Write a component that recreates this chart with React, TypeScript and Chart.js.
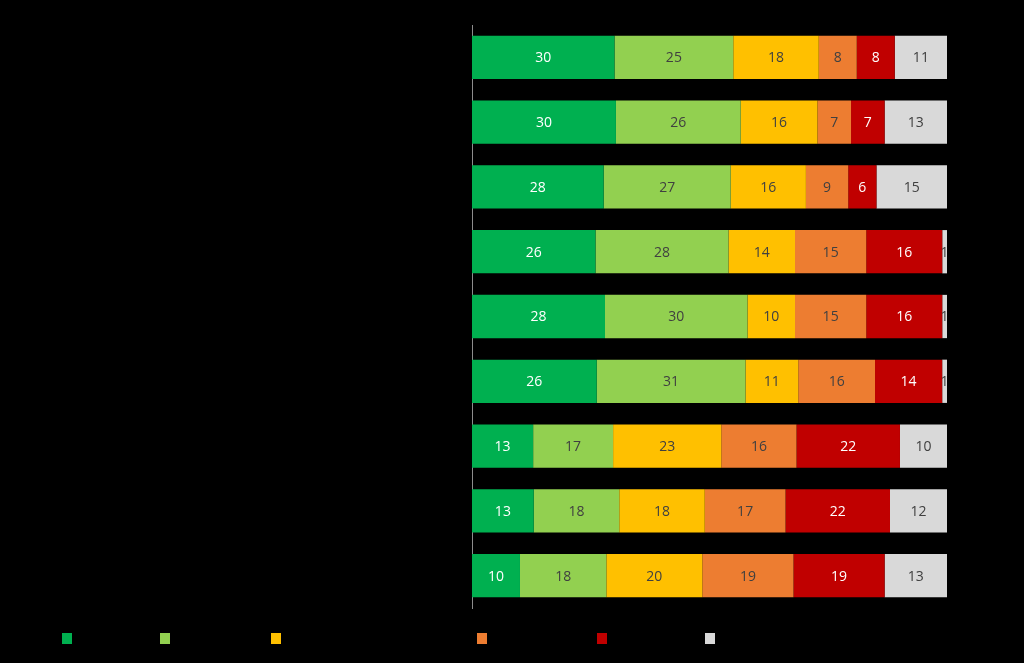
import React, { useEffect, useRef } from "react";
import { Chart, registerables } from "chart.js";

Chart.register(...registerables);

// Category and series names are not legible in the reference (black on black); placeholders kept unseen.
const categories = ["Row 1", "Row 2", "Row 3", "Row 4", "Row 5", "Row 6", "Row 7", "Row 8", "Row 9"];
const seriesNames = ["Series 1", "Series 2", "Series 3", "Series 4", "Series 5", "Series 6"];
const seriesColors = ["#00B050", "#92D050", "#FFC000", "#ED7D31", "#C00000", "#D9D9D9"];
const labelColors = ["#FFFFFF", "#404040", "#404040", "#404040", "#FFFFFF", "#404040"];

const series1 = [30, 30, 28, 26, 28, 26, 13, 13, 10];
const series2 = [25, 26, 27, 28, 30, 31, 17, 18, 18];
const series3 = [18, 16, 16, 14, 10, 11, 23, 18, 20];
const series4 = [8, 7, 9, 15, 15, 16, 16, 17, 19];
const series5 = [8, 7, 6, 16, 16, 14, 22, 22, 19];
const series6 = [11, 13, 15, 1, 1, 1, 10, 12, 13];

const allSeries = [series1, series2, series3, series4, series5, series6];

// legend square x positions (layout)
const legendX = [62, 160, 271, 477, 597, 705];

export default function App() {
  const ref = useRef<HTMLCanvasElement | null>(null);

  useEffect(() => {
    document.body.style.margin = "0";
    document.body.style.background = "#000";
    const canvas = ref.current;
    if (!canvas) return;

    // 100% stacked: normalise each row by its total
    const totals = categories.map((_, i) => allSeries.reduce((s, arr) => s + arr[i], 0));

    const labelPlugin = {
      id: "barLabels",
      afterDatasetsDraw(chart: any) {
        const ctx = chart.ctx;
        const area = chart.chartArea;
        ctx.save();
        ctx.beginPath();
        ctx.rect(area.left, area.top, area.right - area.left + 1, area.bottom - area.top);
        ctx.clip();
        ctx.font = "14px 'Open Sans', 'Noto Sans', sans-serif";
        ctx.textAlign = "center";
        ctx.textBaseline = "middle";
        chart.data.datasets.forEach((ds: any, di: number) => {
          const meta = chart.getDatasetMeta(di);
          meta.data.forEach((el: any, i: number) => {
            const v = allSeries[di][i];
            const cx = (el.x + el.base) / 2;
            ctx.fillStyle = labelColors[di];
            ctx.fillText(String(v), cx, el.y + 1);
          });
        });
        ctx.restore();
      },
    };

    const chart = new Chart(canvas, {
      type: "bar",
      data: {
        labels: categories,
        datasets: allSeries.map((arr, di) => ({
          label: seriesNames[di],
          data: arr.map((v, i) => (v / totals[i]) * 100),
          backgroundColor: seriesColors[di],
          borderWidth: 0,
          categoryPercentage: 1,
          barPercentage: 0.668,
        })),
      },
      options: {
        indexAxis: "y",
        animation: false,
        responsive: false,
        devicePixelRatio: 1,
        layout: { padding: { left: 0, right: 77, top: 25, bottom: 55 } },
        plugins: {
          legend: { display: false },
          tooltip: { enabled: false },
        },
        scales: {
          x: { stacked: true, min: 0, max: 100, display: false },
          y: {
            stacked: true,
            grid: { display: false },
            border: { display: true, color: "#8C8C8C", width: 1 },
            ticks: { display: false },
            afterFit: (s: any) => {
              s.width = 472;
            },
          },
        },
      },
      plugins: [labelPlugin],
    } as any);

    return () => chart.destroy();
  }, []);

  return (
    <div style={{ position: "fixed", left: 0, top: 0, width: 1024, height: 663, background: "#000" }}>
      <canvas ref={ref} width={1024} height={663} style={{ display: "block" }} />
      {seriesNames.map((n, i) => (
        <div
          key={n}
          title={n}
          style={{
            position: "absolute",
            left: legendX[i],
            top: 633,
            width: 10,
            height: 11,
            background: seriesColors[i],
          }}
        />
      ))}
    </div>
  );
}
